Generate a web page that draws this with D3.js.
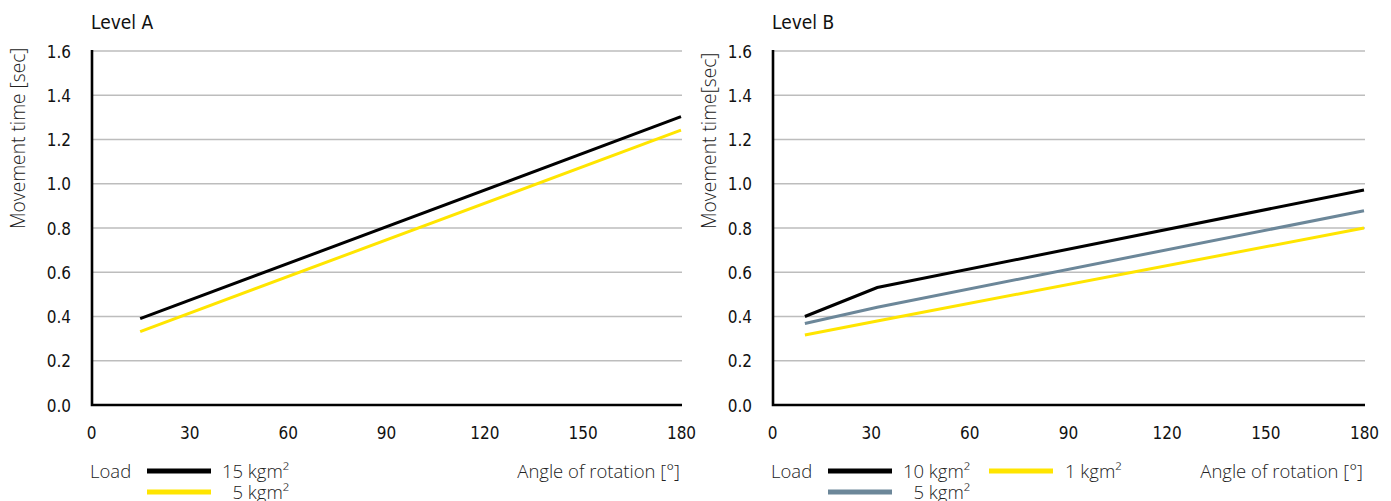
<!DOCTYPE html>
<html>
<head>
<meta charset="utf-8">
<script src="https://cdn.jsdelivr.net/npm/d3@7"></script>
<style>
  body { margin: 0; background: #fff; }
  svg { display: block; }
  .num { font-family: "Liberation Sans Narrow", "DejaVu Sans Condensed", sans-serif; font-size: 17px; fill: #111; }
  .lbl { font-family: "Open Sans", "Roboto", sans-serif; font-weight: 300; font-size: 18.5px; fill: #222; }
  .ylbl { font-family: "Open Sans", "Roboto", sans-serif; font-weight: 300; font-size: 19.2px; fill: #222; }
  .ttl { font-family: "Liberation Sans Narrow", "DejaVu Sans Condensed", sans-serif; font-size: 19px; fill: #111; }
</style>
</head>
<body>
<div id="chart"></div>
<script>
const layout = {
    width: 1391,
    height: 501,
    top: 51,
    bottom: 405,
    bumper: 1
};

// data
const xTicks = [0, 30, 60, 90, 120, 150, 180];
const yTicks = [0, 0.2, 0.4, 0.6, 0.8, 1.0, 1.2, 1.4, 1.6];

const angleA = [15, 180];
const loadA15 = [0.39, 1.303];
const loadA5 = [0.332, 1.242];

const angleB = [10, 32, 180];
const loadB10 = [0.40, 0.531, 0.972];
const loadB5 = [0.368, 0.442, 0.878];
const loadB1 = [0.316, 0.38, 0.80];

const black = "#000000";
const yellow = "#ffe500";
const slate = "#6c8799";

const panels = [
    {
        title: "Level A",
        yLabel: "Movement time [sec]",
        x0: 91, x1: 681,
        labelX: 25,
        series: [
            { angles: angleA, values: loadA15, color: black },
            { angles: angleA, values: loadA5, color: yellow }
        ],
        legend: [
            { name: "15 kgm\u00b2", color: black, col: 0, row: 0 },
            { name: "5 kgm\u00b2", color: yellow, col: 0, row: 1 }
        ]
    },
    {
        title: "Level B",
        yLabel: "Movement time[sec]",
        x0: 772, x1: 1364,
        labelX: 716,
        series: [
            { angles: angleB, values: loadB10, color: black },
            { angles: angleB, values: loadB5, color: slate },
            { angles: angleB, values: loadB1, color: yellow }
        ],
        legend: [
            { name: "10 kgm\u00b2", color: black, col: 0, row: 0 },
            { name: "5 kgm\u00b2", color: slate, col: 0, row: 1 },
            { name: "1 kgm\u00b2", color: yellow, col: 1, row: 0 }
        ]
    }
];

let svg = d3.select("#chart").append("svg")
    .attr("width", layout.width)
    .attr("height", layout.height)
    .attr("viewBox", [0, 0, layout.width, layout.height].join(" "));

let yScale = d3.scaleLinear()
    .domain([0, 1.6])
    .range([layout.bottom, layout.top]);

panels.forEach(function(p) {
    let xScale = d3.scaleLinear()
        .domain([0, 180])
        .range([p.x0, p.x1]);
    let axisX = p.x0 + layout.bumper;

    // gridlines
    svg.append("g")
        .selectAll("line")
        .data(yTicks.filter(d => d > 0))
        .join("line")
        .attr("x1", axisX)
        .attr("x2", p.x1 + 1)
        .attr("y1", d => yScale(d))
        .attr("y2", d => yScale(d))
        .attr("stroke", "#bdbdbd")
        .attr("stroke-width", 1.3);

    // y axis
    let yAxis = svg.append("g")
        .attr("transform", `translate(${axisX},0)`)
        .call(d3.axisLeft(yScale).tickValues(yTicks).tickFormat(d3.format(".1f")).tickSize(0).tickPadding(21));
    yAxis.select(".domain").remove();
    yAxis.selectAll("text").attr("class", "num").attr("dy", "0.36em");

    // x axis
    let xAxis = svg.append("g")
        .attr("transform", `translate(0,${layout.bottom})`)
        .call(d3.axisBottom(xScale).tickValues(xTicks).tickSize(0).tickPadding(22));
    xAxis.select(".domain").remove();
    xAxis.selectAll("text").attr("class", "num");

    // axis lines
    svg.append("path")
        .attr("d", `M${axisX},${layout.top - 1}V${layout.bottom}H${p.x1 + 1}`)
        .attr("fill", "none")
        .attr("stroke", "#000")
        .attr("stroke-width", 2.6);

    // data lines
    p.series.forEach(function(s) {
        let pts = s.angles.map((a, i) => [a, s.values[i]]);
        svg.append("path")
            .datum(pts)
            .attr("fill", "none")
            .attr("stroke", s.color)
            .attr("stroke-width", 3)
            .attr("d", d3.line()
                .x(d => xScale(d[0]))
                .y(d => yScale(d[1])));
    });

    // titles
    svg.append("text")
        .attr("class", "ttl")
        .attr("x", p.x0)
        .attr("y", 29)
        .text(p.title);

    svg.append("text")
        .attr("class", "ylbl")
        .attr("transform", `translate(${p.labelX},229) rotate(-90)`)
        .text(p.yLabel);

    svg.append("text")
        .attr("class", "lbl")
        .attr("x", p.x1 - 1)
        .attr("y", 478)
        .attr("text-anchor", "end")
        .text("Angle of rotation [\u00b0]");

    // legend
    let lx = p.x0 - 1;
    svg.append("text")
        .attr("class", "lbl")
        .attr("x", lx)
        .attr("y", 478)
        .text("Load");

    let items = svg.append("g").selectAll("g")
        .data(p.legend)
        .join("g")
        .attr("transform", d => `translate(${lx + 57 + d.col * 161},${471 + d.row * 21})`);
    items.append("line")
        .attr("x1", 0)
        .attr("x2", 64)
        .attr("stroke", d => d.color)
        .attr("stroke-width", 5);
    items.append("text")
        .attr("class", "lbl")
        .attr("x", d => d.col === 0 ? 142 : 76)
        .attr("y", 7)
        .attr("text-anchor", d => d.col === 0 ? "end" : "start")
        .text(d => d.name);
});
</script>
</body>
</html>
